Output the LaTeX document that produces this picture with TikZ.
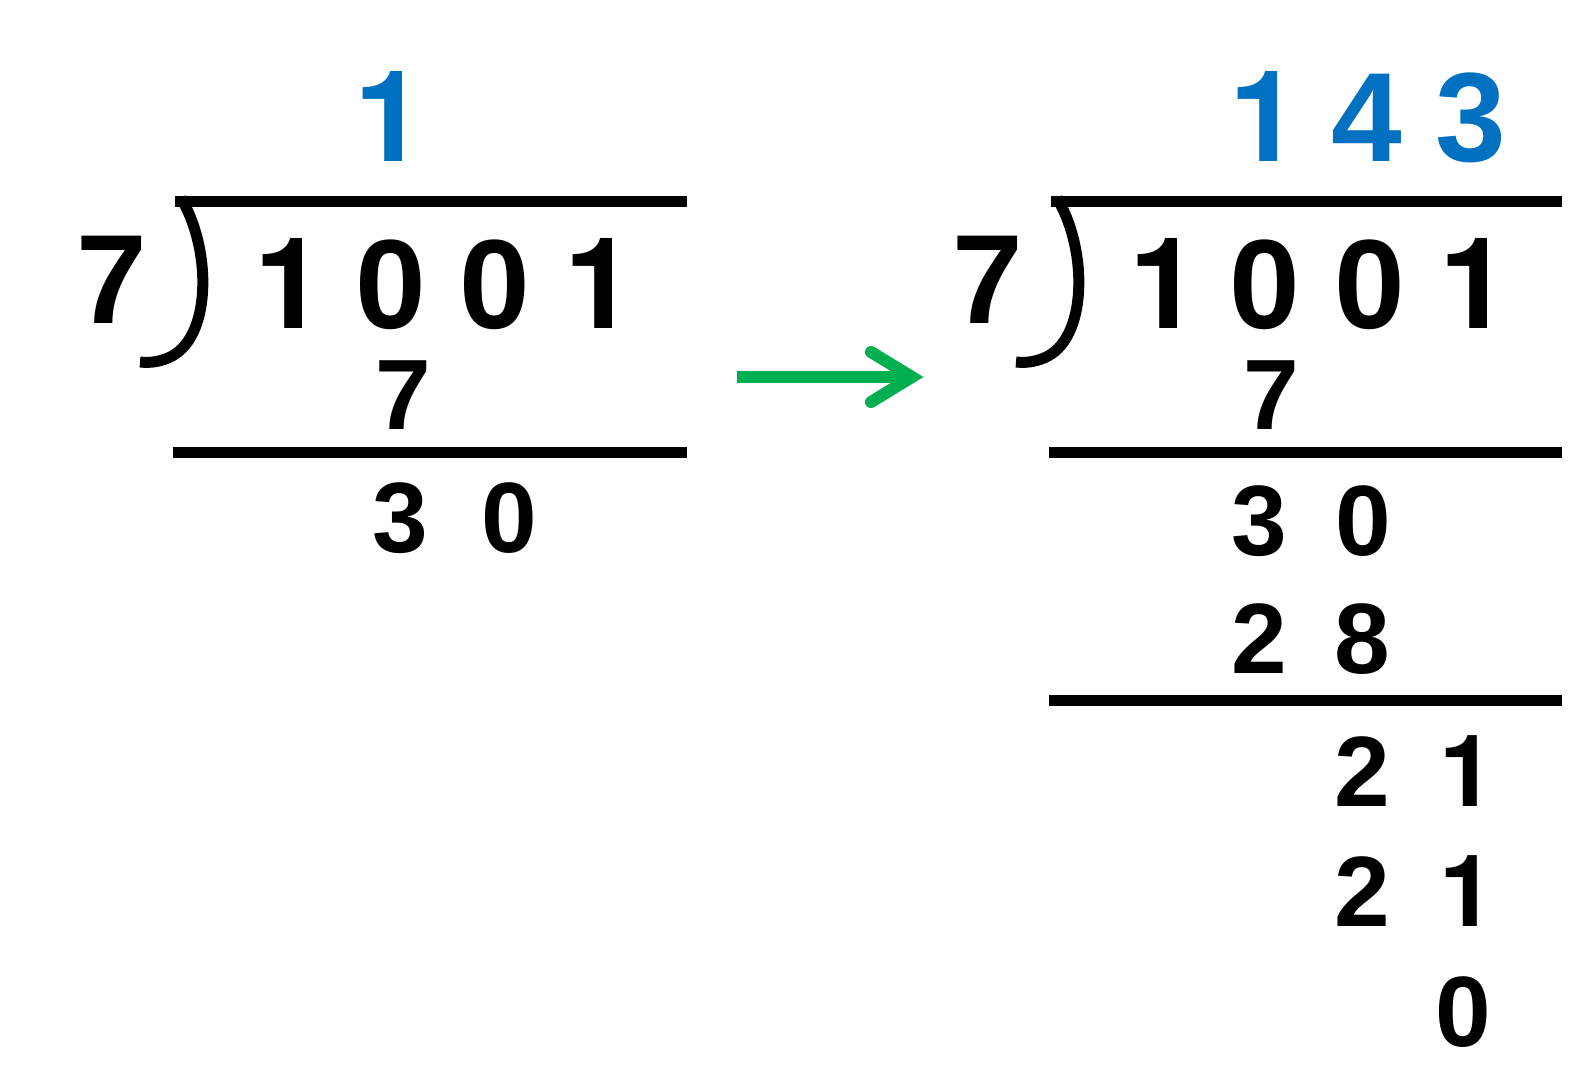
\documentclass[tikz,border=0pt]{standalone}
\usepackage{fontspec}
\setmainfont{Liberation Sans}
\newfontfamily\onefont{TeX Gyre Heros}
\definecolor{qblue}{RGB}{0,112,192}
\definecolor{agreen}{RGB}{0,176,80}
\newcommand{\one}{{\onefont 1}}
\tikzset{
  big/.style={font=\fontsize{127}{127}\bfseries\selectfont, inner sep=0pt, anchor=base},
  small/.style={font=\fontsize{100}{100}\bfseries\selectfont, inner sep=0pt, anchor=base},
  quot/.style={big, text=qblue},
  rule/.style={line width=11pt},
  bracket/.style={line width=11pt, line join=round},
  arrowline/.style={agreen, line width=12pt}
}
\begin{document}
\begin{tikzpicture}[x=1pt,y=-1pt]
\useasboundingbox (0,0) rectangle (1583,1081);
% ---------- left ----------
\node[quot] (lq1) at (390,161) {\one};
\node[big] (ldiv) at (112,323) {7};
\node[big] (la) at (290,328) {\one};
\node[big] (lb) at (391,328) {0};
\node[big] (lc) at (495,328) {0};
\node[big] (ld) at (600,328) {\one};
\node[small] (ls7) at (403,429) {7};
\node[small] (lr3) at (400,552) {3};
\node[small] (lr0) at (509,552) {0};
\coordinate (lt1) at (175,201);
\coordinate (lt2) at (687,201);
\coordinate (lm1) at (173,452);
\coordinate (lm2) at (687,452);
\draw[rule] (lt1) -- (lt2);
\draw[rule] (lm1) -- (lm2);
\coordinate (lbt) at (181,198);
\coordinate (lbb) at (140,362);
\draw[bracket] (lbt) .. controls (212,250) and (212,340) .. (168,358)
  .. controls (158,362) and (150,363) .. (lbb);
% ---------- arrow ----------
\coordinate (as) at (737,377);
\coordinate (ae) at (912,377);
\draw[arrowline] (as) -- (ae);
\draw[arrowline, line cap=round, line join=miter] (871,352) -- (ae) -- (871,402);
% ---------- right ----------
\node[quot] (rq1) at (1265,161) {\one};
\node[quot] (rq4) at (1367,161) {4};
\node[quot] (rq3) at (1471,161) {3};
\node[big] (rdiv) at (988,323) {7};
\node[big] (ra) at (1165,328) {\one};
\node[big] (rb) at (1265,328) {0};
\node[big] (rc) at (1370,328) {0};
\node[big] (rd) at (1475,328) {\one};
\node[small] (rs7) at (1271,429) {7};
\node[small] (rr3) at (1259,555) {3};
\node[small] (rr0) at (1363,555) {0};
\node[small] (rs2) at (1259,673) {2};
\node[small] (rs8) at (1362,673) {8};
\node[small] (rt2) at (1362,806) {2};
\node[small] (rt1) at (1467,806) {\one};
\node[small] (ru2) at (1362,926) {2};
\node[small] (ru1) at (1467,926) {\one};
\node[small] (rz0) at (1463,1046) {0};
\coordinate (rt1a) at (1051,201);
\coordinate (rt2a) at (1562,201);
\coordinate (rm1) at (1049,452);
\coordinate (rm2) at (1562,452);
\coordinate (rn1) at (1049,700);
\coordinate (rn2) at (1562,700);
\draw[rule] (rt1a) -- (rt2a);
\draw[rule] (rm1) -- (rm2);
\draw[rule] (rn1) -- (rn2);
\coordinate (rbt) at (1057,198);
\coordinate (rbb) at (1016,362);
\draw[bracket] (rbt) .. controls (1088,250) and (1088,340) .. (1044,358)
  .. controls (1034,362) and (1026,363) .. (rbb);
\end{tikzpicture}
\end{document}
